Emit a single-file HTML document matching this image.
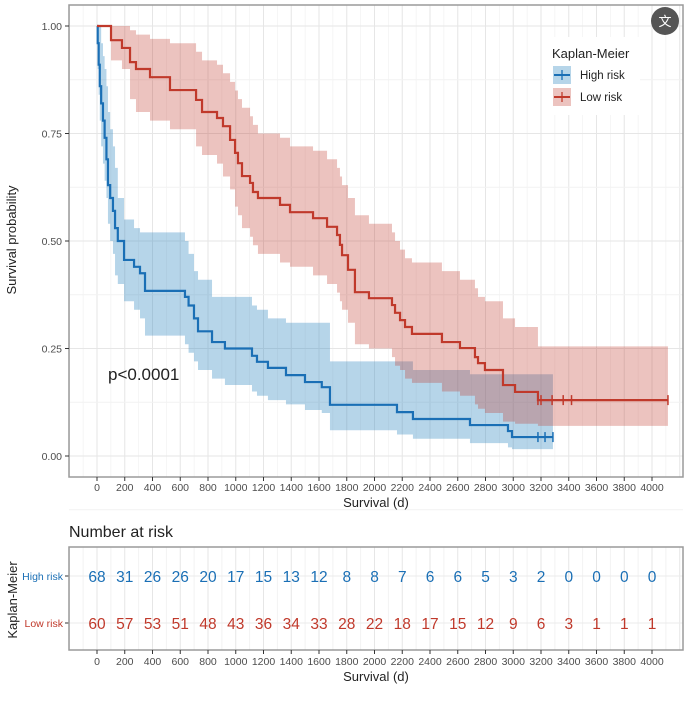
<!DOCTYPE html>
<html><head><meta charset="utf-8"><style>
body{margin:0;background:#fff;font-family:"Liberation Sans",Arial,sans-serif}
svg{display:block}
</style></head><body>
<svg id="chart" width="685" height="701" viewBox="0 0 685 701">
<g id="main"></g>
</svg>
<script>
const xTicks=[0,200,400,600,800,1000,1200,1400,1600,1800,2000,2200,2400,2600,2800,3000,3200,3400,3600,3800,4000];
const yTicks=[0,0.25,0.5,0.75,1];
const yTickLabels=["0.00","0.25","0.50","0.75","1.00"];
const highDays=[0,5,12,20,30,43,55,68,79,95,115,130,150,195,267,310,346,634,660,699,728,829,922,1117,1153,1232,1362,1499,1620,1679,2162,2277,2688,2962,2991];
const highSurv=[1,0.96,0.91,0.86,0.82,0.78,0.74,0.69,0.63,0.6,0.57,0.53,0.5,0.456,0.44,0.425,0.384,0.37,0.35,0.32,0.29,0.265,0.25,0.233,0.219,0.205,0.188,0.172,0.16,0.119,0.102,0.086,0.072,0.058,0.044];
const highUpper=[1,1,1,1,0.96,0.93,0.9,0.86,0.8,0.76,0.72,0.67,0.6,0.55,0.53,0.52,0.52,0.5,0.47,0.43,0.41,0.37,0.37,0.35,0.34,0.32,0.31,0.31,0.31,0.22,0.22,0.2,0.19,0.19,0.19];
const highLower=[1,0.9,0.84,0.78,0.72,0.68,0.64,0.6,0.54,0.5,0.47,0.42,0.4,0.36,0.34,0.32,0.28,0.26,0.24,0.22,0.2,0.18,0.165,0.15,0.14,0.13,0.12,0.107,0.1,0.06,0.05,0.04,0.03,0.02,0.016];
const highEnd=3286;
const highCensor=[3178,3229,3286];
const lowDays=[0,101,180,238,281,382,526,714,757,865,908,959,995,1016,1045,1103,1124,1160,1319,1391,1557,1658,1730,1751,1766,1809,1859,1960,2126,2148,2184,2220,2270,2486,2616,2724,2746,2796,2926,3013,3178];
const lowSurv=[1,0.967,0.949,0.916,0.9,0.881,0.851,0.828,0.8,0.786,0.767,0.735,0.705,0.681,0.651,0.635,0.614,0.6,0.584,0.567,0.553,0.533,0.514,0.491,0.467,0.433,0.381,0.367,0.351,0.333,0.316,0.3,0.284,0.265,0.251,0.23,0.216,0.2,0.165,0.149,0.13];
const lowUpper=[1,1,1,0.99,0.98,0.97,0.96,0.94,0.92,0.91,0.89,0.87,0.85,0.83,0.81,0.79,0.77,0.75,0.74,0.72,0.71,0.69,0.67,0.65,0.63,0.6,0.56,0.54,0.52,0.5,0.48,0.46,0.45,0.43,0.41,0.39,0.37,0.36,0.32,0.3,0.255];
const lowLower=[1,0.92,0.9,0.83,0.8,0.78,0.76,0.72,0.7,0.68,0.65,0.62,0.58,0.56,0.53,0.51,0.49,0.47,0.45,0.44,0.42,0.4,0.38,0.36,0.34,0.31,0.26,0.25,0.23,0.21,0.2,0.18,0.17,0.15,0.14,0.12,0.11,0.1,0.08,0.075,0.07];
const lowEnd=4115;
const lowCensor=[3178,3200,3280,3360,3420,4115];
const riskHigh=[68,31,26,26,20,17,15,13,12,8,8,7,6,6,5,3,2,0,0,0,0];
const riskLow=[60,57,53,51,48,43,36,34,33,28,22,18,17,15,12,9,6,3,1,1,1];

const NS="http://www.w3.org/2000/svg";
const g=document.getElementById('main');
function xS(d){return 97+d*0.13875;}
function yS(s){return 456-s*430;}
function el(tag,attrs,parent){const e=document.createElementNS(NS,tag);for(const k in attrs)e.setAttribute(k,attrs[k]);(parent||g).appendChild(e);return e;}
const PL=69,PR=683,PT=5,PB=477;
const BLUE="#1a6fb5",RED="#c0392b";

// main panel grid
for(let d=-200;d<=4200;d+=100){const l=el('line',{x1:xS(d),x2:xS(d),y1:PT,y2:PB,stroke:d%200===0?'#e6e6e6':'#f2f2f2','stroke-width':d%200===0?1:0.7});

}
for(let s=-0.125;s<=1.125;s+=0.125){const l=el('line',{x1:PL,x2:PR,y1:yS(s),y2:yS(s),stroke:Math.abs(s*4-Math.round(s*4))<1e-6?'#e6e6e6':'#f2f2f2','stroke-width':1});

}

function bandPath(days,up,lo,end){let p='M'+xS(days[0])+','+yS(up[0]);
for(let i=0;i<days.length;i++){const x2=xS(i+1<days.length?days[i+1]:end);p+=' L'+xS(days[i])+','+yS(up[i])+' L'+x2+','+yS(up[i]);}
for(let i=days.length-1;i>=0;i--){const x2=xS(i+1<days.length?days[i+1]:end);p+=' L'+x2+','+yS(lo[i])+' L'+xS(days[i])+','+yS(lo[i]);}
return p+'Z';}
function stepPath(days,s,end){let p='M'+xS(days[0])+','+yS(s[0]);
for(let i=1;i<days.length;i++){p+=' H'+xS(days[i])+' V'+yS(s[i]);}
return p+' H'+xS(end);}

const bH=el('path',{d:bandPath(highDays,highUpper,highLower,highEnd),fill:'rgba(46,134,193,0.35)'});


const bL=el('path',{d:bandPath(lowDays,lowUpper,lowLower,lowEnd),fill:'rgba(192,57,43,0.3)'});


const lH=el('path',{d:stepPath(highDays,highSurv,highEnd),fill:'none',stroke:BLUE,'stroke-width':2.2});


const lL=el('path',{d:stepPath(lowDays,lowSurv,lowEnd),fill:'none',stroke:RED,'stroke-width':2.2});


highCensor.forEach(d=>{const c=el('line',{x1:xS(d),x2:xS(d),y1:yS(highSurv[highSurv.length-1])-5,y2:yS(highSurv[highSurv.length-1])+5,stroke:BLUE,'stroke-width':1.5});

});
lowCensor.forEach(d=>{const c=el('line',{x1:xS(d),x2:xS(d),y1:yS(lowSurv[lowSurv.length-1])-5,y2:yS(lowSurv[lowSurv.length-1])+5,stroke:RED,'stroke-width':1.5});

});

const border=el('rect',{x:PL,y:PT,width:PR-PL,height:PB-PT,fill:'none',stroke:'#9a9a9a','stroke-width':1.5});



yTicks.forEach((v,i)=>{el('line',{x1:PL-4,x2:PL,y1:yS(v),y2:yS(v),stroke:'#333'});
const t=el('text',{x:PL-7,y:yS(v)+4,'text-anchor':'end','font-size':10.5,fill:'#4d4d4d'});t.textContent=yTickLabels[i];

});
xTicks.forEach(v=>{el('line',{x1:xS(v),x2:xS(v),y1:PB,y2:PB+4,stroke:'#333'});
const t=el('text',{x:xS(v),y:PB+14,'text-anchor':'middle','font-size':10.5,fill:'#4d4d4d'});t.textContent=v;

});
const yt=el('text',{x:0,y:0,transform:'translate(16,240) rotate(-90)','text-anchor':'middle','font-size':13,fill:'#222'});yt.textContent='Survival probability';


const xt=el('text',{x:376,y:507,'text-anchor':'middle','font-size':13,fill:'#222'});xt.textContent='Survival (d)';


const pv=el('text',{x:108,y:380,'font-size':17,fill:'#222'});pv.textContent='p<0.0001';



// legend
const lg=el('g',{});


el('rect',{x:543,y:37,width:97,height:78,fill:'#fff'},lg);
const lt=el('text',{x:552,y:58,'font-size':13,fill:'#222'},lg);lt.textContent='Kaplan-Meier';
[['High risk','rgba(46,134,193,0.35)',BLUE,75],['Low risk','rgba(192,57,43,0.3)',RED,97]].forEach(([n,f,c,y])=>{
const e=el('g',{},lg);


el('rect',{x:553,y:y-9,width:18,height:18,fill:f},e);
el('line',{x1:554,x2:570,y1:y,y2:y,stroke:c,'stroke-width':2},e);
el('line',{x1:562,x2:562,y1:y-5,y2:y+5,stroke:c,'stroke-width':1.3},e);
const t=el('text',{x:580,y:y+4,'font-size':11.5,fill:'#222'},e);t.textContent=n;});

// translate icon
const ic=el('g',{});


el('circle',{cx:665,cy:21,r:14,fill:'#555'},ic);
const it=el('text',{x:665,y:26,'text-anchor':'middle','font-size':13,fill:'#fff','font-family':'"Noto Sans CJK SC",sans-serif'},ic);it.textContent='文';

// risk table
const RT=547,RB=650;
const rt=el('text',{x:69,y:537,'font-size':16,fill:'#222'});rt.textContent='Number at risk';


for(let d=-200;d<=4200;d+=100){const l=el('line',{x1:xS(d),x2:xS(d),y1:RT,y2:RB,stroke:d%200===0?'#e6e6e6':'#f2f2f2','stroke-width':1});

}
[576,623].forEach(y=>{el('line',{x1:PL,x2:PR,y1:y,y2:y,stroke:'#ebebeb'});el('line',{x1:PL-4,x2:PL,y1:y,y2:y,stroke:'#333'});});
const rb=el('rect',{x:PL,y:RT,width:PR-PL,height:RB-RT,fill:'none',stroke:'#9a9a9a','stroke-width':1.5});


[['High risk',576,BLUE,riskHigh],['Low risk',623,RED,riskLow]].forEach(([n,y,c,arr])=>{
const lab=el('text',{x:63,y:y+4,'text-anchor':'end','font-size':10.5,fill:c});lab.textContent=n;


arr.forEach((v,i)=>{const t=el('text',{x:xS(xTicks[i]),y:y+6,'text-anchor':'middle','font-size':15.5,fill:c});t.textContent=v;

});});
xTicks.forEach(v=>{el('line',{x1:xS(v),x2:xS(v),y1:RB,y2:RB+4,stroke:'#333'});
const t=el('text',{x:xS(v),y:RB+15,'text-anchor':'middle','font-size':10.5,fill:'#4d4d4d'});t.textContent=v;

});
const rxt=el('text',{x:376,y:681,'text-anchor':'middle','font-size':13,fill:'#222'});rxt.textContent='Survival (d)';


const ryt=el('text',{x:0,y:0,transform:'translate(17,600) rotate(-90)','text-anchor':'middle','font-size':13,fill:'#222'});ryt.textContent='Kaplan-Meier';


</script>
</body></html>
